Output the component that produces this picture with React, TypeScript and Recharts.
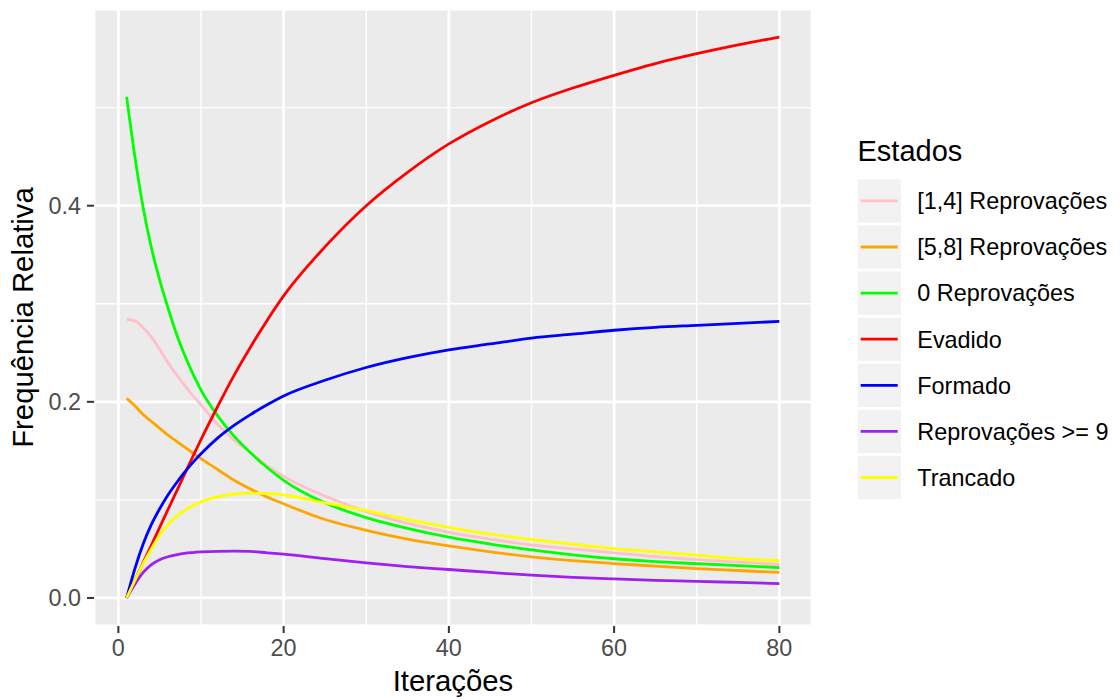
import React from 'react';
import {
  LineChart, Line, XAxis, YAxis, CartesianGrid, ReferenceLine, Label,
} from 'recharts';

// iterations sampled from the plot
const iterations = [1, 2, 3, 4, 5, 6, 7, 8, 9, 10, 12, 14, 16, 18, 20, 25, 30, 35, 40, 45, 50, 55, 60, 65, 70, 75, 80];

const reprov14 = [0.284, 0.2826, 0.2755, 0.266, 0.2535, 0.240, 0.228, 0.217, 0.2065, 0.197, 0.177, 0.161, 0.148, 0.135, 0.124, 0.104, 0.088, 0.076, 0.067, 0.060, 0.054, 0.050, 0.046, 0.042, 0.039, 0.0365, 0.034];
const reprov58 = [0.2035, 0.196, 0.187, 0.180, 0.173, 0.166, 0.160, 0.154, 0.148, 0.142, 0.131, 0.120, 0.111, 0.103, 0.096, 0.080, 0.069, 0.060, 0.053, 0.047, 0.042, 0.038, 0.035, 0.0325, 0.030, 0.028, 0.026];
const reprov0 = [0.511, 0.450, 0.398, 0.357, 0.324, 0.296, 0.270, 0.248, 0.229, 0.212, 0.186, 0.165, 0.148, 0.133, 0.120, 0.097, 0.082, 0.071, 0.062, 0.055, 0.049, 0.044, 0.040, 0.037, 0.035, 0.033, 0.031];
const evadido = [0, 0.018, 0.036, 0.054, 0.072, 0.090, 0.108, 0.126, 0.144, 0.1615, 0.195, 0.227, 0.256, 0.283, 0.308, 0.358, 0.400, 0.434, 0.463, 0.486, 0.505, 0.520, 0.533, 0.545, 0.555, 0.564, 0.572];
const formado = [0, 0.030, 0.055, 0.075, 0.091, 0.105, 0.117, 0.128, 0.138, 0.147, 0.163, 0.176, 0.187, 0.197, 0.206, 0.222, 0.235, 0.245, 0.253, 0.259, 0.265, 0.269, 0.273, 0.276, 0.278, 0.280, 0.282];
const reprov9 = [0, 0.014, 0.026, 0.034, 0.039, 0.042, 0.044, 0.0455, 0.0463, 0.0469, 0.0476, 0.0478, 0.0475, 0.046, 0.0446, 0.040, 0.0357, 0.032, 0.029, 0.026, 0.0232, 0.021, 0.0194, 0.018, 0.017, 0.0158, 0.0147];
const trancado = [0, 0.018, 0.035, 0.050, 0.064, 0.075, 0.083, 0.089, 0.094, 0.098, 0.103, 0.106, 0.107, 0.1065, 0.105, 0.097, 0.089, 0.080, 0.072, 0.065, 0.0596, 0.055, 0.0504, 0.047, 0.0436, 0.040, 0.038];

const seriesNames = ['[1,4] Reprovações', '[5,8] Reprovações', '0 Reprovações', 'Evadido', 'Formado', 'Reprovações >= 9', 'Trancado'];
const seriesColors = ['#FFC0CB', '#FFA500', '#00FF00', '#FF0000', '#0000FF', '#A020F0', '#FFFF00'];
const seriesValues = [reprov14, reprov58, reprov0, evadido, formado, reprov9, trancado];

const xTicks = [0, 20, 40, 60, 80];
const xMinor = [10, 30, 50, 70];
const yTicks = [0, 0.2, 0.4];
const yMinor = [0.1, 0.3, 0.5];

const data = iterations.map((it, i) => {
  const row: Record<string, number> = { it };
  seriesNames.forEach((name, s) => { row[name] = seriesValues[s][i]; });
  return row;
});

const FONT = '"Liberation Sans", Arial, Helvetica, sans-serif';

function StatesLegend() {
  return (
    <svg width={280} height={400} style={{ position: 'absolute', left: 840, top: 120 }}>
      <text x={17.5} y={41} fontSize={29} fontFamily={FONT} fill="#000">Estados</text>
      {seriesNames.map((name, i) => {
        const top = 59.3 + i * 46.1;
        return (
          <g key={name}>
            <rect x={17.7} y={top} width={43.3} height={43.3} fill="#F2F2F2" />
            <line x1={20.7} x2={57.7} y1={top + 21.6} y2={top + 21.6} stroke={seriesColors[i]} strokeWidth={2.8} />
            <text x={77.3} y={top + 21.6} dy="0.355em" fontSize={23.4} fontFamily={FONT} fill="#000">{name}</text>
          </g>
        );
      })}
    </svg>
  );
}

export default function App() {
  return (
    <div style={{ position: 'absolute', left: 0, top: 0, width: 1120, height: 700, background: '#fff' }}>
      <LineChart
        width={1120}
        height={700}
        data={data}
        margin={{ top: 9, right: 308, bottom: 0, left: 0 }}
      >
        <CartesianGrid fill="#EBEBEB" stroke="#FFFFFF" strokeWidth={2.8} />
        {xMinor.map(v => (
          <ReferenceLine key={'x' + v} x={v} stroke="#FFFFFF" strokeWidth={1.4} />
        ))}
        {yMinor.map(v => (
          <ReferenceLine key={'y' + v} y={v} stroke="#FFFFFF" strokeWidth={1.4} />
        ))}
        <XAxis
          dataKey="it"
          type="number"
          domain={[-2.95, 83.95]}
          ticks={xTicks}
          allowDataOverflow
          height={74}
          axisLine={false}
          tickSize={7}
          tickMargin={6}
          tickLine={{ stroke: '#333333', strokeWidth: 2 }}
          tick={{ fill: '#4D4D4D', fontSize: 23.4, fontFamily: FONT }}
        >
          <Label
            content={() => (
              <text x={453} y={691} textAnchor="middle" fontSize={29.3} fontFamily={FONT} fill="#000">Iterações</text>
            )}
          />
        </XAxis>
        <YAxis
          type="number"
          domain={[-0.0286, 0.6006]}
          ticks={yTicks}
          allowDataOverflow
          width={94}
          axisLine={false}
          tickSize={7}
          tickMargin={6}
          tickLine={{ stroke: '#333333', strokeWidth: 2 }}
          tick={{ fill: '#4D4D4D', fontSize: 23.4, fontFamily: FONT }}
          tickFormatter={(v: number) => v.toFixed(1)}
        >
          <Label
            content={() => (
              <text x={23} y={317.5} textAnchor="middle" dy="0.355em" transform="rotate(-90 23 317.5)" fontSize={29.3} fontFamily={FONT} fill="#000">Frequência Relativa</text>
            )}
          />
        </YAxis>
        {seriesNames.map((name, i) => (
          <Line
            key={name}
            type="monotone"
            dataKey={name}
            stroke={seriesColors[i]}
            strokeWidth={2.8}
            dot={false}
            activeDot={false}
            isAnimationActive={false}
          />
        ))}
      </LineChart>
      <StatesLegend />
    </div>
  );
}
